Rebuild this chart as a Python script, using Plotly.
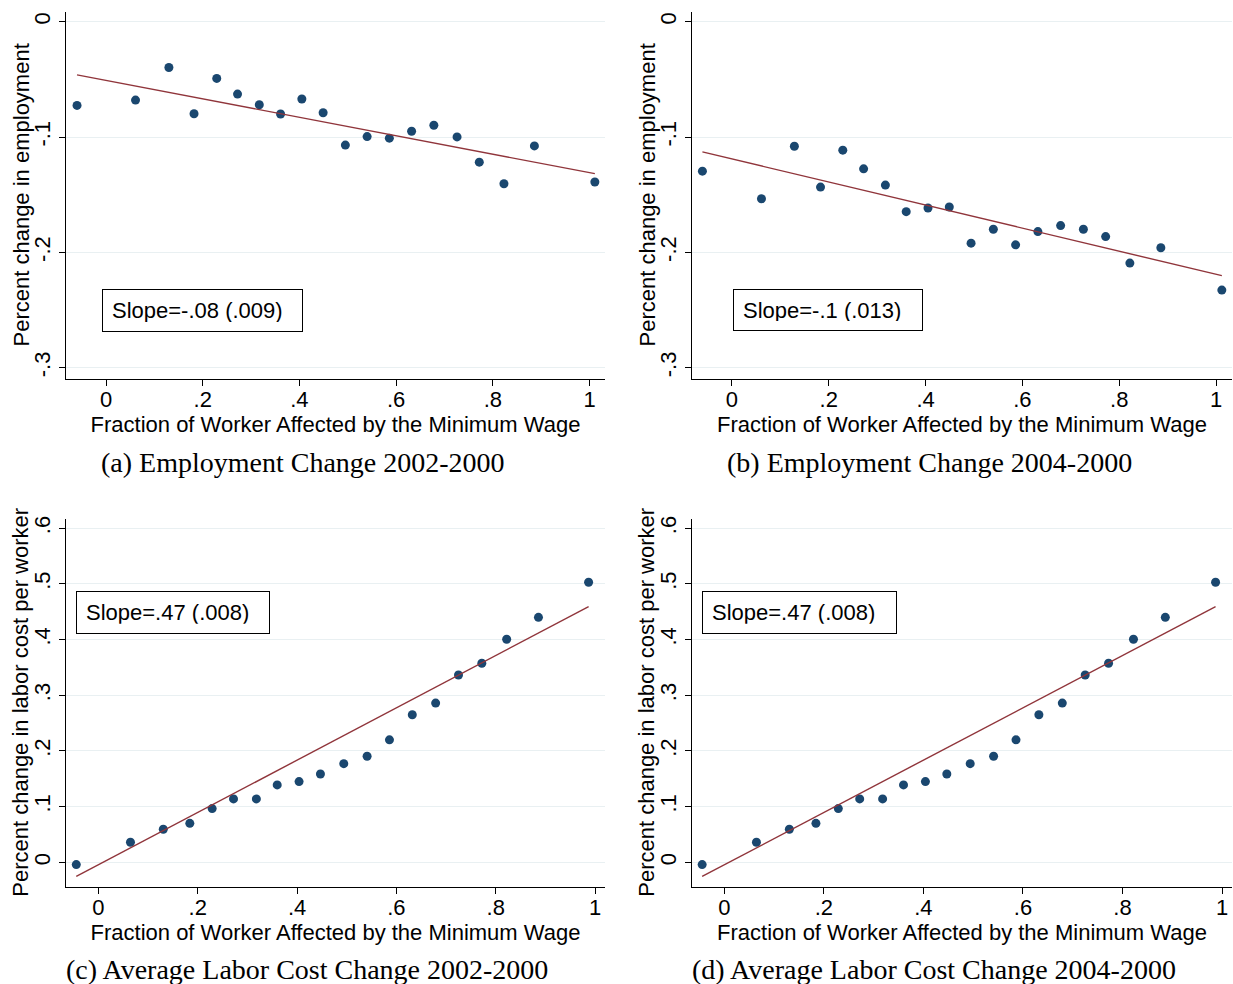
import plotly.graph_objects as go

W, H = 1233, 984

# Binned means by fraction of workers affected by the minimum wage
emp02_x = [-0.060, 0.061, 0.130, 0.182, 0.229, 0.272, 0.317, 0.361, 0.405, 0.449,
           0.495, 0.540, 0.586, 0.632, 0.678, 0.726, 0.772, 0.823, 0.886, 1.011]
emp02_y = [-0.0726, -0.0680, -0.0397, -0.0798, -0.0492, -0.0628, -0.0720, -0.0800, -0.0670, -0.0790,
           -0.1070, -0.0996, -0.1010, -0.0950, -0.0898, -0.0999, -0.1218, -0.1405, -0.1077, -0.1390]

emp04_x = [-0.061, 0.061, 0.129, 0.183, 0.229, 0.272, 0.317, 0.360, 0.405, 0.449,
           0.494, 0.540, 0.586, 0.632, 0.679, 0.726, 0.772, 0.822, 0.886, 1.012]
emp04_y = [-0.1296, -0.1535, -0.1080, -0.1434, -0.1114, -0.1276, -0.1417, -0.1647, -0.1615, -0.1607,
           -0.1920, -0.1800, -0.1935, -0.1820, -0.1768, -0.1800, -0.1863, -0.2093, -0.1960, -0.2327]

cost02_x = [-0.0446, 0.0645, 0.1306, 0.184, 0.229, 0.272, 0.318, 0.360, 0.404, 0.447,
            0.494, 0.541, 0.586, 0.632, 0.679, 0.725, 0.772, 0.822, 0.886, 0.987]
cost02_y = [-0.0042, 0.0359, 0.0593, 0.0700, 0.0964, 0.1138, 0.1138, 0.1390, 0.1450, 0.1587,
            0.1772, 0.1904, 0.2200, 0.2650, 0.2860, 0.3365, 0.3575, 0.4006, 0.4400, 0.5030]

cost04_x = [-0.0446, 0.0645, 0.1306, 0.184, 0.229, 0.272, 0.318, 0.360, 0.404, 0.447,
            0.494, 0.541, 0.586, 0.632, 0.679, 0.725, 0.772, 0.822, 0.886, 0.987]
cost04_y = [-0.0042, 0.0359, 0.0593, 0.0700, 0.0964, 0.1138, 0.1138, 0.1390, 0.1450, 0.1587,
            0.1772, 0.1904, 0.2200, 0.2650, 0.2860, 0.3365, 0.3575, 0.4006, 0.4400, 0.5030]

# Linear fit (slope as reported, intercept of the fitted line)
fit_slope = [-0.08, -0.10, 0.47, 0.47]
fit_intercept = [-0.0509, -0.1190, -0.0045, -0.0045]
slope_labels = ["Slope=-.08 (.009)", "Slope=-.1 (.013)", "Slope=.47 (.008)", "Slope=.47 (.008)"]

captions = ["(a) Employment Change 2002-2000", "(b) Employment Change 2004-2000",
            "(c) Average Labor Cost Change 2002-2000", "(d) Average Labor Cost Change 2004-2000"]

x_title = "Fraction of Worker Affected by the Minimum Wage"
y_titles = ["Percent change in employment", "Percent change in employment",
            "Percent change in labor cost per worker", "Percent change in labor cost per worker"]

x_ticks = [0, 0.2, 0.4, 0.6, 0.8, 1]
x_ticktext = ["0", ".2", ".4", ".6", ".8", "1"]
emp_yticks = [0, -0.1, -0.2, -0.3]
emp_yticktext = ["0", "-.1", "-.2", "-.3"]
cost_yticks = [0, 0.1, 0.2, 0.3, 0.4, 0.5, 0.6]
cost_yticktext = ["0", ".1", ".2", ".3", ".4", ".5", ".6"]

series = [(emp02_x, emp02_y), (emp04_x, emp04_y), (cost02_x, cost02_y), (cost04_x, cost04_y)]

NAVY = "#1a476f"
MAROON = "#90353b"
GRID = "#e9f0f2"
SANS = "Liberation Sans"
SERIF = "Liberation Serif"

# Panel boxes in pixels: (left, right, top, bottom)
panels_px = [(66, 605, 12, 379), (692, 1232, 12, 379),
             (66, 605, 519, 886.5), (692, 1232, 519, 886.5)]
x_ranges = [[-0.0828, 1.032], [-0.0825, 1.033], [-0.0653, 1.02], [-0.065, 1.02]]
y_ranges = [[-0.3098, 0.0084], [-0.3098, 0.0084], [-0.0435, 0.6167], [-0.0435, 0.6167]]
y_tickspec = [(emp_yticks, emp_yticktext), (emp_yticks, emp_yticktext),
              (cost_yticks, cost_yticktext), (cost_yticks, cost_yticktext)]

# Slope boxes (left, top, right, bottom) in pixels
boxes_px = [(101.7, 289, 303, 332), (733, 289, 923, 331),
            (76.3, 590.6, 270.6, 633.3), (702, 590.6, 896.5, 633.3)]
caption_px = [(302.5, 463), (929, 463), (306.5, 969), (933.5, 969)]
ytitle_offset = 45  # px left of the y axis line

fig = go.Figure()
layout = dict(width=W, height=H, margin=dict(l=0, r=0, t=0, b=0),
              paper_bgcolor="white", plot_bgcolor="white", showlegend=False,
              annotations=[])

tick_font = dict(family=SANS, size=22, color="black")
title_font = dict(family=SANS, size=22, color="black")

for i, ((xs, ys), (l, r, t, b)) in enumerate(zip(series, panels_px)):
    n = "" if i == 0 else str(i + 1)
    xa, ya = "x" + n, "y" + n
    fig.add_trace(go.Scatter(x=xs, y=ys, mode="markers", xaxis=xa, yaxis=ya,
                             marker=dict(color=NAVY, size=9, line=dict(width=0))))
    x0, x1 = min(xs), max(xs)
    fig.add_trace(go.Scatter(x=[x0, x1],
                             y=[fit_intercept[i] + fit_slope[i] * x0, fit_intercept[i] + fit_slope[i] * x1],
                             mode="lines", xaxis=xa, yaxis=ya,
                             line=dict(color=MAROON, width=1.4)))
    layout["xaxis" + n] = dict(
        domain=[l / W, r / W], range=x_ranges[i], anchor=ya, automargin=False,
        showline=True, linecolor="black", linewidth=1, ticks="outside", ticklen=6,
        tickcolor="black", tickwidth=1, tickvals=x_ticks, ticktext=x_ticktext,
        ticklabelstandoff=-5,
        showgrid=False, zeroline=False, tickfont=tick_font,
        title=dict(text=x_title, font=title_font, standoff=0))
    yt, ytt = y_tickspec[i]
    layout["yaxis" + n] = dict(
        domain=[1 - b / H, 1 - t / H], range=y_ranges[i], anchor=xa, automargin=False,
        showline=True, linecolor="black", linewidth=1, ticks="outside", ticklen=6,
        tickcolor="black", tickwidth=1, tickvals=yt, ticktext=ytt, tickangle=-90,
        showgrid=True, gridcolor=GRID, gridwidth=1, zeroline=False, tickfont=tick_font)

    # Vertical axis title
    layout["annotations"].append(dict(
        x=(l - ytitle_offset) / W, y=1 - (t + b) / 2 / H, xref="paper", yref="paper",
        xanchor="center", yanchor="middle", textangle=-90, showarrow=False,
        text=y_titles[i], font=title_font))

    bl, bt, br, bb = boxes_px[i]
    pad = 9
    layout["annotations"].append(dict(
        x=bl / W, y=1 - bt / H, xref="paper", yref="paper", xanchor="left", yanchor="top",
        text=slope_labels[i], showarrow=False, align="left",
        width=(br - bl) - 2 * pad - 2, height=(bb - bt) - 2 * pad - 2,
        bordercolor="black", borderwidth=1, borderpad=pad, bgcolor="white",
        font=dict(family=SANS, size=22, color="black")))

    cx, cy = caption_px[i]
    layout["annotations"].append(dict(
        x=cx / W, y=1 - cy / H, xref="paper", yref="paper", xanchor="center", yanchor="middle",
        text=captions[i], showarrow=False,
        font=dict(family=SERIF, size=28, color="black")))

fig.update_layout(**layout)
fig.write_html("out.html")
